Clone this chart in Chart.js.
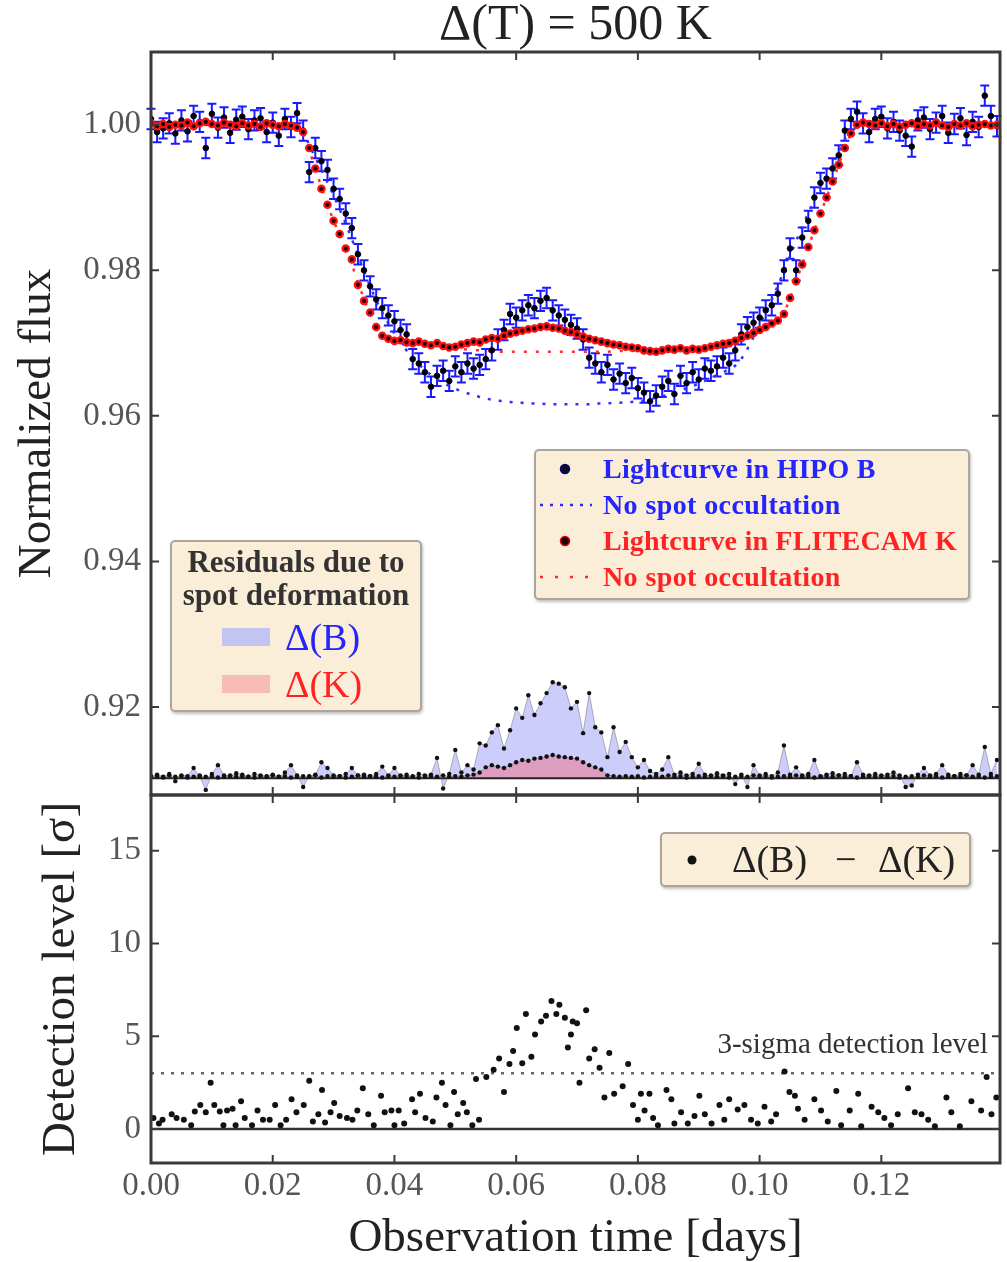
<!DOCTYPE html>
<html>
<head>
<meta charset="utf-8">
<title>Delta T = 500 K</title>
<script src="https://cdn.jsdelivr.net/npm/chart.js@4.4.1/dist/chart.umd.min.js"></script>
<style>
body { margin:0; background:#fff; }
#page { position:relative; width:1007px; height:1262px; overflow:hidden; }
#page canvas { position:absolute; left:0; top:0; }
.lg { position:absolute; box-sizing:border-box; background:#faeed9; border:2px solid #aba59c; border-radius:5px; box-shadow:1px 2px 3px rgba(0,0,0,0.25); font-family:"Liberation Serif", serif; }
.lg svg { position:absolute; left:0; top:0; }
.lg .t { position:absolute; white-space:nowrap; line-height:1; transform:translateY(-50%); }
.lg .patch { position:absolute; width:48px; height:18px; }
.blue { color:#2424ff; }
.red { color:#ff2222; }
</style>
</head>
<body>
<div id="page">
  <canvas id="bottomChart" width="1007" height="1262"></canvas>
  <canvas id="topChart" width="1007" height="1262"></canvas>

  <div class="lg" style="left:534px;top:449px;width:436px;height:151px">
    <svg width="70" height="147">
      <circle cx="29" cy="18" r="4.5" fill="#111" stroke="#000088" stroke-width="1.5"/>
      <line x1="4" y1="54" x2="56" y2="54" stroke="#2a2aff" stroke-width="2.5" stroke-dasharray="3,7"/>
      <circle cx="29" cy="90" r="4.5" fill="#220000" stroke="#dd0000" stroke-width="1.5"/>
      <line x1="4" y1="126" x2="56" y2="126" stroke="#ff2a2a" stroke-width="2.5" stroke-dasharray="3,12"/>
    </svg>
    <div class="t blue" style="left:67px;top:18px;font-size:28px;font-weight:bold;letter-spacing:0.3px">Lightcurve in HIPO B</div>
    <div class="t blue" style="left:67px;top:54px;font-size:28px;font-weight:bold;letter-spacing:0.4px">No spot occultation</div>
    <div class="t red" style="left:67px;top:90px;font-size:28px;font-weight:bold;letter-spacing:0.2px">Lightcurve in FLITECAM K</div>
    <div class="t red" style="left:67px;top:126px;font-size:28px;font-weight:bold;letter-spacing:0.4px">No spot occultation</div>
  </div>

  <div class="lg" style="left:170px;top:540px;width:252px;height:172px">
    <div style="position:absolute;left:0;top:3px;width:100%;text-align:center;font-size:31px;line-height:33px;font-weight:bold;color:#333">Residuals due to<br>spot deformation</div>
    <div class="patch" style="left:50px;top:86px;background:#c4c4f2"></div>
    <div class="patch" style="left:50px;top:133px;background:#f7bcb8"></div>
    <div class="t blue" style="left:113px;top:95px;font-size:38px">Δ(B)</div>
    <div class="t red" style="left:113px;top:142px;font-size:38px">Δ(K)</div>
  </div>

  <div class="lg" style="left:660px;top:832px;width:311px;height:55px">
    <svg width="60" height="51"><circle cx="30" cy="26" r="4.5" fill="#111"/></svg>
    <div class="t" style="left:70px;top:25px;font-size:38px;color:#222">Δ(B)</div>
    <div class="t" style="left:173px;top:25px;font-size:38px;color:#222">−</div>
    <div class="t" style="left:216px;top:25px;font-size:38px;color:#222">Δ(K)</div>
  </div>
</div>

<script>
// observation times [days], same grid for both lightcurves and residuals
const times = [
  0.000,0.001,0.002,0.003,0.004,0.005,0.006,0.007,0.008,0.009,
  0.010,0.011,0.012,0.013,0.014,0.015,0.016,0.017,0.018,0.019,
  0.020,0.021,0.022,0.023,0.024,0.025,0.026,0.027,0.028,0.029,
  0.030,0.031,0.032,0.033,0.034,0.035,0.036,0.037,0.038,0.039,
  0.040,0.041,0.042,0.043,0.044,0.045,0.046,0.047,0.048,0.049,
  0.050,0.051,0.052,0.053,0.054,0.055,0.056,0.057,0.058,0.059,
  0.060,0.061,0.062,0.063,0.064,0.065,0.066,0.067,0.068,0.069,
  0.070,0.071,0.072,0.073,0.074,0.075,0.076,0.077,0.078,0.079,
  0.080,0.081,0.082,0.083,0.084,0.085,0.086,0.087,0.088,0.089,
  0.090,0.091,0.092,0.093,0.094,0.095,0.096,0.097,0.098,0.099,
  0.100,0.101,0.102,0.103,0.104,0.105,0.106,0.107,0.108,0.109,
  0.110,0.111,0.112,0.113,0.114,0.115,0.116,0.117,0.118,0.119,
  0.120,0.121,0.122,0.123,0.124,0.125,0.126,0.127,0.128,0.129,
  0.130,0.131,0.132,0.133,0.134,0.135,0.136,0.137,0.138,0.139
];

// HIPO B lightcurve
const blueFlux = [
  1.0008,0.9990,0.9995,1.0002,0.9988,1.0006,0.9991,1.0012,1.0004,0.9968,
  1.0015,0.9996,1.0010,0.9989,1.0007,1.0011,0.9994,1.0006,1.0009,0.9990,
  1.0003,0.9985,1.0008,0.9997,1.0016,0.9992,0.9935,0.9968,0.9950,0.9938,
  0.9912,0.9898,0.9878,0.9858,0.9822,0.9800,0.9778,0.9760,0.9748,0.9738,
  0.9730,0.9718,0.9712,0.9678,0.9672,0.9660,0.9640,0.9655,0.9662,0.9648,
  0.9668,0.9660,0.9672,0.9665,0.9670,0.9678,0.9690,0.9705,0.9718,0.9740,
  0.9735,0.9745,0.9752,0.9748,0.9758,0.9762,0.9745,0.9738,0.9732,0.9725,
  0.9720,0.9705,0.9680,0.9672,0.9660,0.9670,0.9650,0.9658,0.9645,0.9652,
  0.9638,0.9632,0.9620,0.9628,0.9640,0.9648,0.9630,0.9655,0.9645,0.9660,
  0.9650,0.9665,0.9662,0.9668,0.9680,0.9672,0.9690,0.9712,0.9722,0.9728,
  0.9735,0.9745,0.9752,0.9768,0.9800,0.9830,0.9800,0.9845,0.9868,0.9900,
  0.9920,0.9926,0.9940,0.9958,0.9992,1.0008,1.0018,1.0002,0.9990,1.0008,
  1.0011,0.9995,1.0004,0.9992,0.9985,0.9970,1.0006,1.0010,0.9994,1.0003,
  1.0012,0.9989,1.0001,1.0009,0.9986,1.0004,0.9997,1.0040,1.0012,0.9998
];
const blueErr = 0.0014;

// FLITECAM K lightcurve
const redFlux = [
  1.0002,0.9998,1.0001,0.9997,1.0000,0.9999,1.0003,0.9998,1.0002,1.0004,
  1.0001,0.9999,1.0003,1.0000,0.9998,1.0002,0.9999,1.0001,0.9997,1.0002,
  1.0000,0.9998,1.0001,0.9999,0.9996,0.9990,0.9968,0.9940,0.9912,0.9890,
  0.9868,0.9850,0.9830,0.9815,0.9780,0.9758,0.9742,0.9722,0.9710,0.9706,
  0.9703,0.9704,0.9701,0.9700,0.9702,0.9699,0.9697,0.9700,0.9696,0.9694,
  0.9695,0.9698,0.9700,0.9702,0.9701,0.9705,0.9707,0.9706,0.9710,0.9713,
  0.9715,0.9717,0.9719,0.9720,0.9722,0.9723,0.9721,0.9720,0.9717,0.9715,
  0.9712,0.9709,0.9706,0.9704,0.9702,0.9700,0.9698,0.9697,0.9695,0.9694,
  0.9693,0.9690,0.9689,0.9688,0.9690,0.9692,0.9691,0.9693,0.9690,0.9692,
  0.9691,0.9693,0.9695,0.9697,0.9699,0.9700,0.9703,0.9707,0.9710,0.9714,
  0.9718,0.9722,0.9727,0.9731,0.9740,0.9762,0.9785,0.9808,0.9832,0.9855,
  0.9878,0.9900,0.9922,0.9945,0.9968,0.9988,1.0000,1.0003,1.0001,0.9999,
  1.0002,0.9998,1.0001,0.9997,1.0000,1.0002,0.9998,1.0001,0.9999,1.0003,
  0.9999,0.9997,1.0001,0.9999,1.0002,0.9998,1.0000,1.0001,0.9999,1.0000
];

// models without spot occultation
const noSpotB = [
  1.0000,1.0000,1.0000,1.0000,1.0000,1.0000,1.0000,1.0000,1.0000,1.0000,
  1.0000,1.0000,1.0000,1.0000,1.0000,1.0000,1.0000,1.0000,1.0000,1.0000,
  1.0000,1.0000,1.0000,1.0000,1.0000,0.9992,0.9972,0.9955,0.9938,0.9921,
  0.9903,0.9884,0.9864,0.9843,0.9821,0.9799,0.9778,0.9759,0.9742,0.9727,
  0.9713,0.9701,0.9690,0.9680,0.9671,0.9663,0.9656,0.9650,0.9645,0.9641,
  0.9637,0.9634,0.9631,0.9628,0.9626,0.9624,0.9622,0.9621,0.9620,0.9619,
  0.9618,0.9618,0.9617,0.9617,0.9617,0.9616,0.9616,0.9616,0.9616,0.9616,
  0.9616,0.9616,0.9616,0.9617,0.9617,0.9617,0.9618,0.9618,0.9619,0.9619,
  0.9620,0.9621,0.9623,0.9625,0.9627,0.9629,0.9632,0.9635,0.9638,0.9641,
  0.9644,0.9648,0.9652,0.9656,0.9660,0.9664,0.9669,0.9678,0.9692,0.9708,
  0.9725,0.9742,0.9760,0.9779,0.9799,0.9820,0.9840,0.9860,0.9879,0.9897,
  0.9914,0.9930,0.9946,0.9962,0.9980,0.9995,1.0000,1.0000,1.0000,1.0000,
  1.0000,1.0000,1.0000,1.0000,1.0000,1.0000,1.0000,1.0000,1.0000,1.0000,
  1.0000,1.0000,1.0000,1.0000,1.0000,1.0000,1.0000,1.0000,1.0000,1.0000
];
const noSpotK = [
  1.0000,1.0000,1.0000,1.0000,1.0000,1.0000,1.0000,1.0000,1.0000,1.0000,
  1.0000,1.0000,1.0000,1.0000,1.0000,1.0000,1.0000,1.0000,1.0000,1.0000,
  1.0000,1.0000,1.0000,1.0000,0.9997,0.9990,0.9966,0.9940,0.9914,0.9890,
  0.9868,0.9848,0.9828,0.9808,0.9784,0.9760,0.9740,0.9722,0.9712,0.9707,
  0.9704,0.9702,0.9701,0.9700,0.9699,0.9698,0.9697,0.9696,0.9695,0.9694,
  0.9693,0.9692,0.9691,0.9690,0.9690,0.9689,0.9689,0.9688,0.9688,0.9688,
  0.9688,0.9688,0.9688,0.9688,0.9688,0.9688,0.9688,0.9688,0.9688,0.9688,
  0.9688,0.9688,0.9688,0.9688,0.9688,0.9688,0.9689,0.9689,0.9689,0.9689,
  0.9690,0.9690,0.9690,0.9690,0.9690,0.9691,0.9691,0.9691,0.9691,0.9692,
  0.9692,0.9693,0.9694,0.9696,0.9698,0.9700,0.9703,0.9707,0.9710,0.9714,
  0.9718,0.9722,0.9727,0.9731,0.9740,0.9762,0.9785,0.9808,0.9832,0.9855,
  0.9878,0.9900,0.9922,0.9945,0.9968,0.9988,1.0000,1.0000,1.0000,1.0000,
  1.0000,1.0000,1.0000,1.0000,1.0000,1.0000,1.0000,1.0000,1.0000,1.0000,
  1.0000,1.0000,1.0000,1.0000,1.0000,1.0000,1.0000,1.0000,1.0000,1.0000
];

// residuals due to spot deformation (flux), plotted around an offset
const residualBase = 0.9102;
const residualB = [
  0.0003,0.0005,0.0002,0.0006,-0.0004,0.0004,0.0003,0.0014,0.0002,-0.0016,
  0.0006,0.0018,0.0004,0.0003,0.0007,0.0005,0.0002,0.0006,0.0004,0.0003,
  0.0005,0.0002,0.0008,0.0018,0.0004,-0.0012,0.0003,0.0005,0.0022,0.0014,
  0.0004,0.0003,0.0006,0.0014,0.0004,0.0005,0.0003,0.0006,0.0016,0.0004,
  0.0014,0.0003,0.0005,0.0002,0.0006,0.0004,0.0005,0.0028,-0.0014,0.0006,
  0.0039,0.0008,0.0018,0.0012,0.0048,0.0045,0.0063,0.0073,0.0041,0.0066,
  0.0096,0.0083,0.0114,0.0087,0.0103,0.0117,0.0132,0.0130,0.0125,0.0096,
  0.0105,0.0062,0.0117,0.0070,0.0063,0.0029,0.0070,0.0036,0.0050,0.0029,
  0.0015,0.0025,0.0010,0.0006,0.0012,0.0029,0.0005,0.0008,0.0004,0.0006,
  0.0020,0.0005,0.0003,0.0007,0.0004,0.0006,-0.0008,0.0005,-0.0012,0.0018,
  0.0004,0.0006,0.0003,0.0008,0.0045,0.0005,0.0015,0.0004,0.0006,0.0025,
  0.0003,0.0005,0.0007,0.0004,0.0006,0.0003,0.0022,0.0005,0.0004,0.0006,
  0.0003,0.0005,0.0008,0.0004,-0.0012,-0.0010,0.0005,0.0014,0.0004,0.0006,
  0.0018,0.0005,0.0003,0.0006,0.0004,0.0018,0.0005,0.0043,0.0006,0.0025
];
const residualK = [
  0.0002,0.0003,0.0001,0.0004,0.0002,0.0003,0.0001,0.0002,0.0004,0.0002,
  0.0003,0.0001,0.0002,0.0004,0.0002,0.0003,0.0002,0.0001,0.0003,0.0002,
  0.0004,0.0002,0.0003,0.0001,0.0002,0.0003,0.0002,0.0004,0.0001,0.0003,
  0.0002,0.0003,0.0001,0.0002,0.0004,0.0002,0.0003,0.0002,0.0001,0.0003,
  0.0002,0.0004,0.0002,0.0003,0.0001,0.0002,0.0003,0.0002,0.0004,0.0002,
  0.0003,0.0002,0.0004,0.0005,0.0008,0.0015,0.0018,0.0016,0.0014,0.0018,
  0.0022,0.0025,0.0024,0.0027,0.0028,0.0030,0.0032,0.0030,0.0029,0.0028,
  0.0027,0.0022,0.0018,0.0015,0.0012,0.0004,0.0003,0.0002,0.0003,0.0002,
  0.0003,0.0001,0.0002,0.0003,0.0002,0.0004,0.0002,0.0003,0.0001,0.0002,
  0.0003,0.0002,0.0004,0.0002,0.0003,0.0001,0.0002,0.0003,0.0002,0.0004,
  0.0002,0.0003,0.0001,0.0002,0.0003,0.0002,0.0004,0.0002,0.0003,0.0001,
  0.0002,0.0003,0.0002,0.0004,0.0002,0.0003,0.0001,0.0002,0.0003,0.0002,
  0.0004,0.0002,0.0003,0.0001,0.0002,0.0003,0.0002,0.0004,0.0002,0.0003,
  0.0001,0.0002,0.0003,0.0002,0.0004,0.0002,0.0003,0.0001,0.0002,0.0003
];

// detection level of delta(B) - delta(K), in sigma
const detTime = [
  0.0004,0.0013,0.0019,0.0034,0.0042,0.0054,0.0066,0.0072,0.0081,0.0090,
  0.0098,0.0104,0.0113,0.0119,0.0125,0.0134,0.0139,0.0148,0.0154,0.0166,
  0.0175,0.0184,0.0195,0.0204,0.0213,0.0222,0.0231,0.0239,0.0251,0.0260,
  0.0266,0.0275,0.0281,0.0286,0.0295,0.0301,0.0310,0.0322,0.0331,0.0339,
  0.0348,0.0357,0.0366,0.0378,0.0384,0.0395,0.0400,0.0407,0.0416,0.0429,
  0.0434,0.0442,0.0451,0.0463,0.0469,0.0478,0.0484,0.0492,0.0498,0.0504,
  0.0513,0.0519,0.0528,0.0534,0.0539,0.0551,0.0563,0.0572,0.0580,0.0589,
  0.0595,0.0601,0.0610,0.0616,0.0625,0.0631,0.0641,0.0649,0.0658,0.0666,
  0.0671,0.0680,0.0685,0.0690,0.0693,0.0700,0.0704,0.0715,0.0720,0.0729,
  0.0737,0.0745,0.0753,0.0761,0.0775,0.0784,0.0792,0.0800,0.0805,0.0811,
  0.0819,0.0825,0.0833,0.0847,0.0855,0.0860,0.0871,0.0882,0.0893,0.0901,
  0.0910,0.0921,0.0934,0.0942,0.0950,0.0964,0.0975,0.0986,0.0997,0.1008,
  0.1019,0.1027,0.1041,0.1049,0.1058,0.1063,0.1074,0.1090,0.1101,0.1112,
  0.1126,0.1134,0.1148,0.1162,0.1167,0.1184,0.1195,0.1205,0.1216,0.1227,
  0.1244,0.1255,0.1266,0.1277,0.1288,0.1307,0.1315,0.1329,0.1348,0.1364,
  0.1373,0.1381,0.1389
];
const detSigma = [
  0.6,0.3,0.5,0.8,0.6,0.5,0.2,0.95,1.3,0.9,
  2.5,1.3,0.95,0.2,1.0,1.1,0.2,1.5,0.6,0.2,
  1.0,0.5,0.5,1.3,0.2,0.5,1.6,0.9,1.3,2.6,
  0.4,0.8,2.1,0.35,0.9,1.4,0.7,0.6,0.5,1.0,
  2.2,0.8,0.2,1.8,0.9,1.0,0.2,1.0,0.3,1.6,
  0.9,1.9,0.6,0.4,1.7,2.5,1.3,0.2,2.0,0.8,
  1.4,0.9,0.2,2.7,0.5,2.8,3.2,3.8,2.0,3.5,
  4.2,5.45,3.55,6.2,3.9,5.1,5.8,6.1,6.9,6.2,
  6.7,6.0,4.4,5.1,5.8,5.7,2.5,6.4,3.8,4.3,
  3.3,1.7,4.1,1.9,2.3,3.5,1.3,0.5,1.9,1.0,
  1.9,0.6,0.2,2.1,1.6,0.3,0.9,0.3,0.7,1.8,
  0.8,0.3,1.3,0.5,1.6,1.05,1.3,0.5,0.3,1.2,
  0.4,0.8,3.1,2.0,1.8,1.1,0.5,1.6,1.0,0.4,
  2.05,0.2,1.0,1.9,0.15,1.2,0.9,0.6,0.2,0.8,
  2.2,0.9,0.8,0.5,0.15,1.7,0.9,0.15,1.5,1.0,
  2.8,0.8,1.7
];
const sigmaLevel = 3;

// axes
const tMax = 0.1395;
const timeTicks = [0.00, 0.02, 0.04, 0.06, 0.08, 0.10, 0.12];
const fluxTicks = [0.92, 0.94, 0.96, 0.98, 1.00];
const sigmaTicks = [0, 5, 10, 15];

const serif = 'Liberation Serif';
Chart.defaults.font.family = serif;

function pts(xs, ys, off) {
  return xs.map((x, i) => ({x: x, y: ys[i] + (off || 0)}));
}

// frame around the plot with inward ticks on all four sides
const framePlugin = {
  id: 'frame',
  afterDraw(chart) {
    const {ctx, chartArea: a} = chart;
    const x = chart.scales.x, y = chart.scales.y;
    ctx.save();
    ctx.strokeStyle = '#3a3a3a';
    ctx.lineWidth = 2;
    ctx.beginPath();
    timeTicks.forEach(v => {
      const px = x.getPixelForValue(v);
      ctx.moveTo(px, a.top); ctx.lineTo(px, a.top + 8);
      ctx.moveTo(px, a.bottom); ctx.lineTo(px, a.bottom - 8);
    });
    y.ticks.forEach(t => {
      const py = y.getPixelForValue(t.value);
      ctx.moveTo(a.left, py); ctx.lineTo(a.left + 8, py);
      ctx.moveTo(a.right, py); ctx.lineTo(a.right - 8, py);
    });
    ctx.stroke();
    ctx.lineWidth = 3;
    ctx.strokeRect(a.left, a.top, a.right - a.left, a.bottom - a.top);
    ctx.restore();
  }
};

// blue error bars of the HIPO B lightcurve
const errorBars = {
  id: 'errorBars',
  beforeDatasetsDraw(chart) {
    const {ctx, scales: {x, y}} = chart;
    ctx.save();
    ctx.strokeStyle = '#1a1aff';
    ctx.lineWidth = 2;
    ctx.beginPath();
    times.forEach((t, i) => {
      const px = x.getPixelForValue(t);
      const hi = y.getPixelForValue(blueFlux[i] + blueErr);
      const lo = y.getPixelForValue(blueFlux[i] - blueErr);
      ctx.moveTo(px, hi); ctx.lineTo(px, lo);
      ctx.moveTo(px - 4.5, hi); ctx.lineTo(px + 4.5, hi);
      ctx.moveTo(px - 4.5, lo); ctx.lineTo(px + 4.5, lo);
    });
    ctx.stroke();
    ctx.restore();
  }
};

const sigmaLabel = {
  id: 'sigmaLabel',
  afterDatasetsDraw(chart) {
    const {ctx, chartArea: a, scales: {y}} = chart;
    ctx.save();
    ctx.font = '29px "Liberation Serif"';
    ctx.fillStyle = '#333';
    ctx.textAlign = 'right';
    ctx.textBaseline = 'middle';
    ctx.fillText('3-sigma detection level', a.right - 12, y.getPixelForValue(sigmaLevel) - 28);
    ctx.restore();
  }
};

const tickFont = {family: serif, size: 33};
const titleFont = {family: serif, size: 47, lineHeight: 1};

new Chart(document.getElementById('topChart'), {
  type: 'scatter',
  data: {
    datasets: [
      {label: 'Lightcurve in FLITECAM K', data: pts(times, redFlux), pointRadius: 3.2,
       pointBackgroundColor: '#1a0000', pointBorderColor: '#ff1010', pointBorderWidth: 2.2, order: 1},
      {label: 'Lightcurve in HIPO B', data: pts(times, blueFlux), pointRadius: 2.8,
       pointBackgroundColor: '#000', pointBorderColor: '#000018', pointBorderWidth: 1, order: 2},
      {label: 'No spot occultation (K)', data: pts(times, noSpotK), showLine: true, borderColor: '#ff3030',
       borderWidth: 2.5, borderDash: [3, 9], pointRadius: 0, order: 3},
      {label: 'No spot occultation (B)', data: pts(times, noSpotB), showLine: true, borderColor: '#3030ff',
       borderWidth: 2.5, borderDash: [3, 8], pointRadius: 0, order: 4},
      {label: 'Δ(K)', data: pts(times, residualK, residualBase), showLine: true, borderColor: 'rgba(110,110,110,0.5)',
       borderWidth: 1, pointRadius: 2.2, pointBackgroundColor: '#111', pointBorderWidth: 0,
       fill: {value: residualBase}, backgroundColor: 'rgba(255,60,70,0.32)', order: 5},
      {label: 'Δ(B)', data: pts(times, residualB, residualBase), showLine: true, borderColor: 'rgba(110,110,110,0.5)',
       borderWidth: 1, pointRadius: 2.2, pointBackgroundColor: '#111', pointBorderWidth: 0,
       fill: {value: residualBase}, backgroundColor: 'rgba(60,60,240,0.26)', order: 6},
      {label: 'baseline', data: [{x: 0, y: residualBase}, {x: tMax, y: residualBase}], showLine: true,
       borderColor: '#222', borderWidth: 2, pointRadius: 0, order: 7}
    ]
  },
  options: {
    responsive: false,
    animation: false,
    events: [],
    layout: {padding: {left: 0, right: 7, top: 0, bottom: 1262 - 795}},
    plugins: {
      legend: {display: false},
      tooltip: {enabled: false},
      filler: {drawTime: 'beforeDatasetsDraw'},
      title: {display: true, fullSize: false, text: 'Δ(T) = 500 K', color: '#222',
              font: {family: serif, size: 50, weight: 'normal', lineHeight: 1},
              padding: {top: 1, bottom: 1}}
    },
    scales: {
      x: {type: 'linear', min: 0, max: tMax, display: false},
      y: {
        min: 0.9079, max: 1.0100,
        afterFit(s) { s.width = 151; },
        afterBuildTicks(s) { s.ticks = fluxTicks.map(v => ({value: v})); },
        ticks: {callback: v => v.toFixed(2), font: tickFont, color: '#555', padding: 10},
        grid: {display: false, drawTicks: false},
        border: {display: false},
        title: {display: true, text: 'Normalized flux', color: '#222', font: titleFont, padding: {top: 14, bottom: 0}}
      }
    }
  },
  plugins: [errorBars, framePlugin]
});

new Chart(document.getElementById('bottomChart'), {
  type: 'scatter',
  data: {
    datasets: [
      {label: 'Δ(B) − Δ(K)', data: pts(detTime, detSigma), pointRadius: 3,
       pointBackgroundColor: '#111', pointBorderWidth: 0, order: 1},
      {label: 'zero', data: [{x: 0, y: 0}, {x: tMax, y: 0}], showLine: true,
       borderColor: '#333', borderWidth: 2.5, pointRadius: 0, order: 2},
      {label: '3-sigma detection level', data: [{x: 0, y: sigmaLevel}, {x: tMax, y: sigmaLevel}], showLine: true,
       borderColor: '#666', borderWidth: 2.5, borderDash: [3, 7], pointRadius: 0, order: 3}
    ]
  },
  options: {
    responsive: false,
    animation: false,
    events: [],
    layout: {padding: {left: 0, right: 7, top: 795, bottom: 0}},
    plugins: {legend: {display: false}, tooltip: {enabled: false}},
    scales: {
      x: {
        type: 'linear', min: 0, max: tMax,
        afterFit(s) { s.height = 1262 - 1163; },
        afterBuildTicks(s) { s.ticks = timeTicks.map(v => ({value: v})); },
        ticks: {callback: v => v.toFixed(2), font: tickFont, color: '#555', padding: 4, maxRotation: 0, autoSkip: false},
        grid: {display: false, drawTicks: false},
        border: {display: false},
        title: {display: true, text: 'Observation time [days]', color: '#222', font: titleFont, padding: {top: 0, bottom: 0}}
      },
      y: {
        min: -1.83, max: 18,
        afterFit(s) { s.width = 151; },
        afterBuildTicks(s) { s.ticks = sigmaTicks.map(v => ({value: v})); },
        ticks: {font: tickFont, color: '#555', padding: 10},
        grid: {display: false, drawTicks: false},
        border: {display: false},
        title: {display: true, text: 'Detection level [σ]', color: '#222', font: titleFont, padding: {top: 38, bottom: 0}}
      }
    }
  },
  plugins: [sigmaLabel, framePlugin]
});
</script>
</body>
</html>
